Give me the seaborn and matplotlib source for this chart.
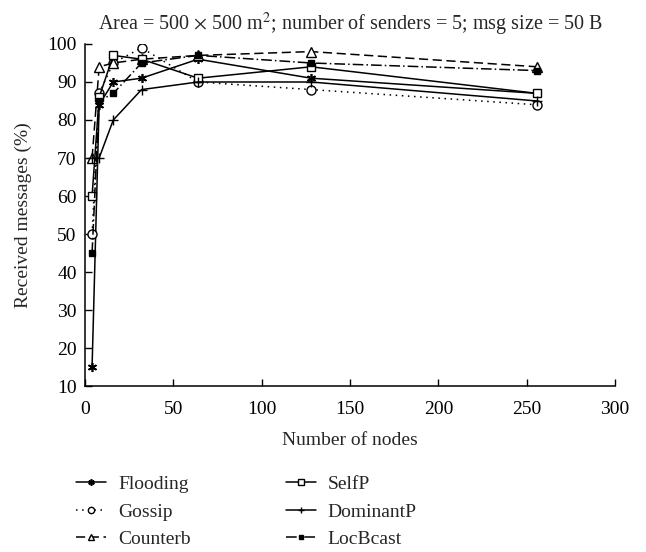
import matplotlib
matplotlib.use("Agg")
import matplotlib.pyplot as plt
import seaborn as sns
import pandas as pd

# Number of nodes in the network
nodes = [4, 8, 16, 32, 64, 128, 256]

# Received messages (%) per protocol
flooding = [15, 84, 90, 91, 96, 91, 87]
gossip = [50, 87, 95, 99, 90, 88, 84]
counterb = [70, 94, 95, 96, 97, 98, 94]
selfp = [60, 86, 97, 96, 91, 94, 87]
dominantp = [70, 70, 80, 88, 90, 90, 85]
locbcast = [45, 85, 87, 95, 97, 95, 93]

series_names = ["Flooding", "Gossip", "Counterb", "SelfP", "DominantP", "LocBcast"]
series_values = [flooding, gossip, counterb, selfp, dominantp, locbcast]

sns.set_theme(style="ticks")
plt.rcParams["font.family"] = ["Liberation Serif", "DejaVu Serif"]
plt.rcParams["mathtext.fontset"] = "stix"

styles = {
    "Flooding": dict(linestyle="-", marker=(6, 2, 0), ms=6.5, mfc="black", mew=1.2),
    "Gossip": dict(linestyle=(0, (1, 3)), marker="o", ms=6.5, mfc="white", mew=1.0),
    "Counterb": dict(linestyle=(0, (6, 3)), marker="^", ms=7, mfc="white", mew=1.0),
    "SelfP": dict(linestyle="-", marker="s", ms=6, mfc="white", mew=1.0),
    "DominantP": dict(linestyle="-", marker="+", ms=7, mfc="black", mew=1.0),
    "LocBcast": dict(linestyle=(0, (7, 2, 1, 2)), marker="s", ms=4.5, mfc="black", mew=1.0),
}

fig = plt.figure(figsize=(6.46, 5.52), dpi=100)
ax = fig.add_axes([0.1316, 0.3007, 0.8204, 0.6196])

df = pd.DataFrame({"nodes": nodes})
for name, vals in zip(series_names, series_values):
    df[name] = vals
    st = styles[name]
    sns.lineplot(data=df, x="nodes", y=name, ax=ax, color="black", lw=1.1,
                 linestyle=st["linestyle"], marker=st["marker"], markersize=st["ms"],
                 markerfacecolor=st["mfc"], markeredgecolor="black",
                 markeredgewidth=st["mew"], label=name)

ax.set_xlim(0, 300)
ax.set_ylim(10, 100)
ax.set_xticks(range(0, 301, 50))
ax.set_yticks(range(10, 101, 10))
ax.tick_params(direction="in", length=5, width=1, labelsize=14, colors="black")
ax.tick_params(axis="x", pad=11)
ax.tick_params(axis="y", pad=6)
for side in ("top", "right"):
    ax.spines[side].set_visible(False)
for side in ("left", "bottom"):
    ax.spines[side].set_linewidth(1.1)
    ax.spines[side].set_color("black")

ax.set_xlabel("Number of nodes", fontsize=14, labelpad=10)
ax.set_ylabel("Received messages (%)", fontsize=14, labelpad=11)
ax.set_title(r"Area = 500 $\times$ 500 m$^2$; number of senders = 5; msg size = 50 B",
             fontsize=14.5, pad=10)

handles, labels = ax.get_legend_handles_labels()
ax.legend(handles, labels, ncol=2, frameon=False, fontsize=14, markerscale=0.7,
          loc="upper left", bbox_to_anchor=(0.097, 0.163), bbox_transform=fig.transFigure,
          handlelength=1.55, columnspacing=4.9, labelspacing=0.5, handletextpad=0.6,
          borderpad=0.2)

fig.savefig("out.png", dpi=100)
